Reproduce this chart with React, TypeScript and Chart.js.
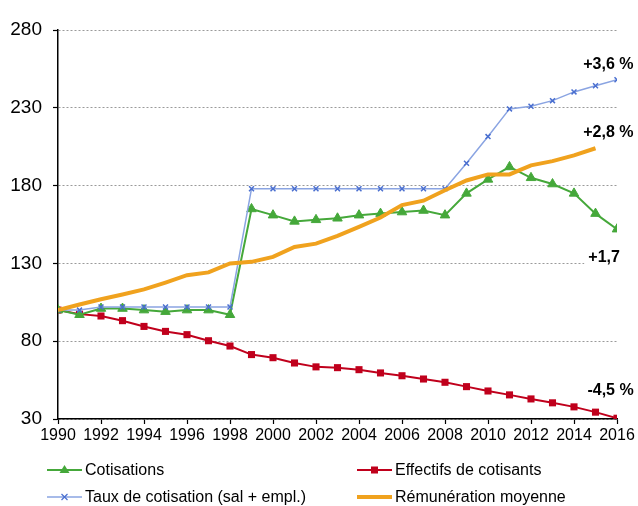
import React, { useEffect, useRef } from "react";
import { Chart, registerables } from "chart.js";

Chart.register(...registerables);

const years = [1990, 1991, 1992, 1993, 1994, 1995, 1996, 1997, 1998, 1999, 2000, 2001, 2002, 2003, 2004, 2005, 2006, 2007, 2008, 2009, 2010, 2011, 2012, 2013, 2014, 2015, 2016];
const cotisations = [100, 97, 101, 101, 100, 99, 100, 100, 97, 165, 161, 157, 158, 159, 161, 162, 163, 164, 161, 175, 184, 192, 185, 181, 175, 162, 152];
const effectifs = [100, 97.4, 96.2, 93.2, 89.5, 86.3, 84.2, 80.3, 76.9, 71.4, 69.4, 66, 63.5, 63, 61.7, 59.6, 57.8, 55.7, 53.6, 50.8, 48, 45.5, 42.9, 40.4, 37.8, 34.4, 30.5];
const taux = [100, 100, 102, 102, 102, 102, 102, 102, 102, 178, 178, 178, 178, 178, 178, 178, 178, 178, 178, 194.4, 211.5, 229.3, 231, 234.6, 240.2, 244.2, 248];
const remuneration = [100, 103.6, 107, 110, 113.3, 117.7, 122.4, 124.2, 130, 131, 134.2, 140.6, 142.7, 147.7, 153.5, 159.5, 167.5, 170.3, 177, 183.3, 187.2, 187.2, 193, 195.7, 199.4, 204];

const seriesNames = ["Cotisations", "Effectifs de cotisants", "Taux de cotisation (sal + empl.)", "Rémunération moyenne"];
const annotationTexts = ["+3,6 %", "+2,8 %", "+1,7", "-4,5 %"];
const annotationYears = [2015.6, 2015.6, 2015.4, 2015.7];
const annotationValues = [258, 214, 134, 48];

const GREEN = "#45a83a";
const RED = "#c0001c";
const BLUE_LINE = "#8aa4e2";
const BLUE_MARK = "#4a6fd0";
const ORANGE = "#f0a21e";

const toPoints = (vals: number[]) => vals.map((v, i) => ({ x: years[i], y: v }));

const overlayPlugin = {
  id: "overlay",
  afterDatasetsDraw(chart: any) {
    const ctx = chart.ctx;
    const xs = chart.scales.x;
    const ys = chart.scales.y;
    ctx.save();
    ctx.font = "bold 16px 'Liberation Sans', Arial, sans-serif";
    ctx.textAlign = "center";
    ctx.textBaseline = "middle";
    annotationTexts.forEach((t, i) => {
      const px = xs.getPixelForValue(annotationYears[i]);
      const py = ys.getPixelForValue(annotationValues[i]);
      const w = ctx.measureText(t).width;
      ctx.fillStyle = "#ffffff";
      ctx.fillRect(px - w / 2 - 4, py - 10, w + 8, 20);
      ctx.fillStyle = "#000000";
      ctx.fillText(t, px, py);
    });
    ctx.restore();
  },
  afterDraw(chart: any) {
    const ctx = chart.ctx;
    ctx.save();
    ctx.font = "16px 'Liberation Sans', Arial, sans-serif";
    ctx.textBaseline = "middle";
    ctx.textAlign = "left";
    const items = [
      { x: 47, y: 470, i: 0 },
      { x: 357, y: 470, i: 1 },
      { x: 47, y: 497, i: 2 },
      { x: 357, y: 497, i: 3 },
    ];
    items.forEach((it) => {
      const ds = chart.data.datasets[it.i];
      ctx.strokeStyle = ds.borderColor;
      ctx.lineWidth = it.i === 3 ? 4 : it.i === 2 ? 1.5 : 2;
      ctx.beginPath();
      ctx.moveTo(it.x, it.y);
      ctx.lineTo(it.x + 35, it.y);
      ctx.stroke();
      const cx = it.x + 17.5;
      if (it.i === 0) {
        ctx.fillStyle = GREEN;
        ctx.beginPath();
        ctx.moveTo(cx, it.y - 5);
        ctx.lineTo(cx + 5, it.y + 3);
        ctx.lineTo(cx - 5, it.y + 3);
        ctx.closePath();
        ctx.fill();
      } else if (it.i === 1) {
        ctx.fillStyle = RED;
        ctx.fillRect(cx - 3.5, it.y - 3.5, 7, 7);
      } else if (it.i === 2) {
        ctx.strokeStyle = BLUE_MARK;
        ctx.lineWidth = 1.2;
        ctx.beginPath();
        ctx.moveTo(cx - 3, it.y - 3);
        ctx.lineTo(cx + 3, it.y + 3);
        ctx.moveTo(cx + 3, it.y - 3);
        ctx.lineTo(cx - 3, it.y + 3);
        ctx.stroke();
      }
      ctx.fillStyle = "#000000";
      ctx.fillText(seriesNames[it.i], it.x + 38, it.y + 1);
    });
    ctx.restore();
  },
};

export default function App() {
  const ref = useRef<HTMLCanvasElement | null>(null);
  useEffect(() => {
    document.body.style.margin = "0";
    const canvas = ref.current;
    if (!canvas) return;
    const chart = new Chart(canvas, {
      type: "line",
      data: {
        datasets: [
          {
            label: seriesNames[0],
            data: toPoints(cotisations),
            borderColor: GREEN,
            backgroundColor: GREEN,
            borderWidth: 2,
            pointStyle: "triangle",
            pointRadius: 5.5,
            pointBorderWidth: 1,
            pointBackgroundColor: GREEN,
            pointBorderColor: GREEN,
            tension: 0,
            order: 2,
          },
          {
            label: seriesNames[1],
            data: toPoints(effectifs),
            borderColor: RED,
            backgroundColor: RED,
            borderWidth: 2,
            pointStyle: "rect",
            pointRadius: 5,
            pointBorderWidth: 0,
            pointBackgroundColor: RED,
            tension: 0,
            order: 3,
          },
          {
            label: seriesNames[2],
            data: toPoints(taux),
            borderColor: BLUE_LINE,
            backgroundColor: BLUE_MARK,
            borderWidth: 1.5,
            pointStyle: "crossRot",
            pointRadius: 3.5,
            pointBorderWidth: 1.5,
            pointBorderColor: BLUE_MARK,
            tension: 0,
            order: 1,
          },
          {
            label: seriesNames[3],
            data: toPoints(remuneration),
            borderColor: ORANGE,
            backgroundColor: ORANGE,
            borderWidth: 4,
            pointRadius: 0,
            tension: 0,
            order: 0,
          },
        ],
      },
      options: {
        animation: false,
        responsive: false,
        maintainAspectRatio: false,
        layout: { padding: { top: 30, right: 21, left: 0, bottom: 0 } },
        plugins: { legend: { display: false }, tooltip: { enabled: false } },
        scales: {
          x: {
            type: "linear",
            min: 1990,
            max: 2016,
            afterFit: (s: any) => {
              s.height = 87;
            },
            ticks: {
              stepSize: 2,
              padding: 2,
              color: "#000000",
              font: { family: "'Liberation Sans', Arial, sans-serif", size: 16 },
              callback: (v: any) => String(v),
              maxRotation: 0,
              autoSkip: false,
            },
            grid: {
              drawOnChartArea: false,
              drawTicks: true,
              tickLength: 5,
              tickColor: "#000000",
              tickWidth: 1.2,
            },
            border: { display: true, color: "#000000", width: 1.5 },
          },
          y: {
            min: 30,
            max: 280,
            afterFit: (s: any) => {
              s.width = 58;
            },
            ticks: {
              stepSize: 50,
              padding: 11,
              color: "#000000",
              font: { family: "'Liberation Sans', Arial, sans-serif", size: 19 },
            },
            grid: {
              color: "#9a9a9a",
              lineWidth: 1,
              drawTicks: true,
              tickLength: 5,
              tickColor: "#000000",
              tickWidth: 1.2,
              tickBorderDash: [],
            },
            border: { display: true, color: "#000000", width: 1.5, dash: [2, 2] },
          },
        },
      },
      plugins: [overlayPlugin],
    } as any);
    return () => chart.destroy();
  }, []);
  return (
    <div style={{ position: "absolute", left: 0, top: 0, width: 638, height: 506 }}>
      <canvas ref={ref} width={638} height={506} style={{ width: 638, height: 506 }} />
    </div>
  );
}
